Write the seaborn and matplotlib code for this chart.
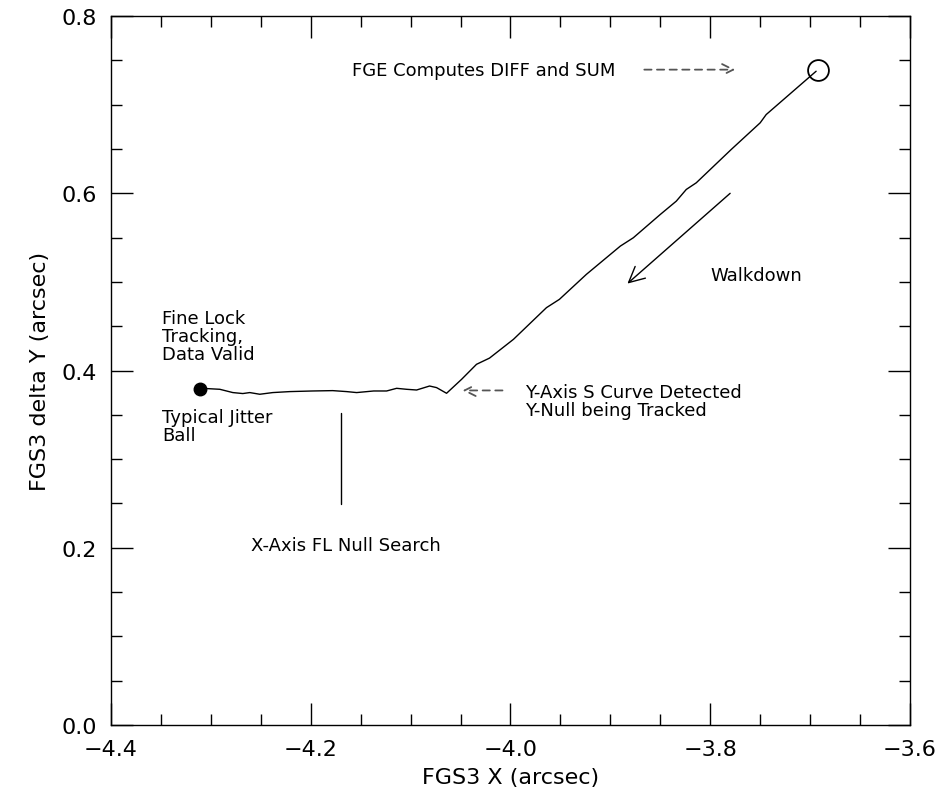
import seaborn as sns
import matplotlib.pyplot as plt
import pandas as pd
from matplotlib.ticker import MultipleLocator

# FGS3 walkdown trace
track_x = [-4.311, -4.304, -4.291, -4.278, -4.268, -4.261, -4.251, -4.238, -4.221,
           -4.198, -4.178, -4.164, -4.154, -4.137, -4.124, -4.114, -4.104, -4.094,
           -4.081, -4.074, -4.064, -4.049, -4.034, -4.021, -3.997, -3.964, -3.951,
           -3.924, -3.890, -3.877, -3.850, -3.834, -3.824, -3.814, -3.779, -3.750,
           -3.744, -3.694]
track_y = [0.379, 0.3796, 0.3788, 0.3751, 0.3740, 0.3751, 0.3732, 0.3751, 0.3762,
           0.3769, 0.3773, 0.3762, 0.3751, 0.3769, 0.3769, 0.3799, 0.3788, 0.3780,
           0.3825, 0.3807, 0.3743, 0.3900, 0.4070, 0.4140, 0.4352, 0.4709, 0.4803,
           0.5085, 0.5404, 0.5498, 0.5761, 0.5911, 0.6043, 0.6118, 0.6494, 0.6795,
           0.6888, 0.7377]

start_x, start_y = -3.692, 0.7396      # FGE start (open circle)
ball_x, ball_y = -4.311, 0.379         # jitter ball

df = pd.DataFrame({'x': track_x, 'y': track_y})

sns.set_style('ticks')
plt.rcParams['font.family'] = ['DejaVu Sans']
plt.rcParams['text.color'] = 'black'
plt.rcParams['axes.labelcolor'] = 'black'

fig = plt.figure(figsize=(9.5, 8.03), dpi=100)
ax = fig.add_axes([0.1168, 0.0959, 0.9579 - 0.1168, 0.9788 - 0.0959])

sns.lineplot(data=df, x='x', y='y', sort=False, color='black', linewidth=1, ax=ax)
ax.plot([start_x], [start_y], 'o', mfc='none', mec='black', ms=15, mew=1.3)
ax.plot([ball_x], [ball_y], 'o', color='black', ms=9)

# X-Axis FL null search marker
ax.plot([-4.170, -4.170], [0.249, 0.352], color='black', linewidth=1)

# walkdown arrow
ax.annotate('', xy=(-3.885, 0.496), xytext=(-3.778, 0.602),
            arrowprops=dict(arrowstyle='->', color='black', lw=1, mutation_scale=28))

# dashed pointers
dash = dict(arrowstyle='->', color='#555555', lw=1.3, linestyle=(0, (4, 3)),
            mutation_scale=20, shrinkA=0, shrinkB=0)
ax.annotate('', xy=(-3.775, 0.7395), xytext=(-3.866, 0.7395), arrowprops=dash)
ax.annotate('', xy=(-4.048, 0.3775), xytext=(-4.008, 0.3775), arrowprops=dash)

fs = 13
ax.text(-4.159, 0.7395, 'FGE Computes DIFF and SUM', fontsize=fs, va='center')
ax.text(-3.800, 0.508, 'Walkdown', fontsize=fs, va='center')
ax.text(-4.349, 0.469, 'Fine Lock\nTracking,\nData Valid', fontsize=fs, va='top',
        linespacing=1.0)
ax.text(-4.349, 0.358, 'Typical Jitter\nBall', fontsize=fs, va='top', linespacing=1.0)
ax.text(-4.260, 0.203, 'X-Axis FL Null Search', fontsize=fs, va='center')
ax.text(-3.985, 0.386, 'Y-Axis S Curve Detected\nY-Null being Tracked', fontsize=fs,
        va='top', linespacing=1.0)

ax.set_xlim(-4.4, -3.6)
ax.set_ylim(0.0, 0.8)
ax.xaxis.set_major_locator(MultipleLocator(0.2))
ax.xaxis.set_minor_locator(MultipleLocator(0.05))
ax.yaxis.set_major_locator(MultipleLocator(0.2))
ax.yaxis.set_minor_locator(MultipleLocator(0.05))
ax.xaxis.set_major_formatter(lambda v, p: f'{v:.1f}'.replace('-', '\u2212'))
ax.yaxis.set_major_formatter(lambda v, p: f'{v:.1f}')
ax.tick_params(which='both', direction='in', top=True, right=True, width=1,
               colors='black', labelsize=16, pad=10)
ax.tick_params(which='major', length=16)
ax.tick_params(which='minor', length=8)
for s in ax.spines.values():
    s.set_visible(True)
    s.set_linewidth(1)
    s.set_color('black')

ax.set_xlabel('FGS3 X (arcsec)', fontsize=16, labelpad=6)
ax.set_ylabel('FGS3 delta Y (arcsec)', fontsize=16, labelpad=8)

fig.savefig('out.png', dpi=100, facecolor='white')
